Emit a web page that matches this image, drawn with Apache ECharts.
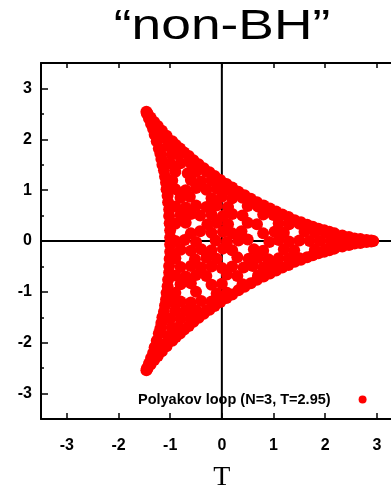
<!DOCTYPE html>
<html><head><meta charset="utf-8">
<script src="https://cdn.jsdelivr.net/npm/echarts@6/dist/echarts.min.js"></script>
<style>html,body{margin:0;padding:0;background:#fff}#c{width:391px;height:491px}</style>
</head><body><div id="c"></div>
<script>
const titleText = '\u201cnon-BH\u201d';
const seriesName = 'Polyakov loop (N=3, T=2.95)';
const xAxisName = 'T';
const xTickValues = [-3, -2, -1, 0, 1, 2, 3];
const yTickValues = [-3, -2, -1, 0, 1, 2, 3];
const yMinorTickValues = [-2.5, -1.5, -0.5, 0.5, 1.5, 2.5];
const zeroLineV = [[0, -3.5], [0, 3.5]];
const zeroLineH = [[-3.5, 0], [3.5, 0]];

// points along the upper-right rim (right tip -> top tip)
const rimUpper = [[2.93,0.00],[2.89,0.01],[2.80,0.02],[2.68,0.04],[2.57,0.05],[2.46,0.08],[2.33,0.11],[2.18,0.15],[2.08,0.18],[1.98,0.21],[1.87,0.24],[1.76,0.28],[1.65,0.32],[1.53,0.37],[1.41,0.41],[1.29,0.47],[1.17,0.52],[1.05,0.58],[0.93,0.64],[0.81,0.70],[0.68,0.76],[0.56,0.83],[0.44,0.90],[0.32,0.97],[0.20,1.05],[0.09,1.12],[-0.03,1.20],[-0.14,1.28],[-0.24,1.35],[-0.35,1.43],[-0.45,1.51],[-0.55,1.59],[-0.64,1.67],[-0.73,1.74],[-0.81,1.82],[-0.89,1.89],[-0.96,1.96],[-1.07,2.07],[-1.16,2.17],[-1.24,2.26],[-1.31,2.34],[-1.38,2.43],[-1.44,2.51],[-1.46,2.54]];
// points along the lower-right rim
const rimLower = [[2.89,-0.01],[2.80,-0.02],[2.68,-0.04],[2.57,-0.05],[2.46,-0.08],[2.33,-0.11],[2.18,-0.15],[2.08,-0.18],[1.98,-0.21],[1.87,-0.24],[1.76,-0.28],[1.65,-0.32],[1.53,-0.37],[1.41,-0.41],[1.29,-0.47],[1.17,-0.52],[1.05,-0.58],[0.93,-0.64],[0.81,-0.70],[0.68,-0.76],[0.56,-0.83],[0.44,-0.90],[0.32,-0.97],[0.20,-1.05],[0.09,-1.12],[-0.03,-1.20],[-0.14,-1.28],[-0.24,-1.35],[-0.35,-1.43],[-0.45,-1.51],[-0.55,-1.59],[-0.64,-1.67],[-0.73,-1.74],[-0.81,-1.82],[-0.89,-1.89],[-0.96,-1.96],[-1.07,-2.07],[-1.16,-2.17],[-1.24,-2.26],[-1.31,-2.34],[-1.38,-2.43],[-1.44,-2.51],[-1.46,-2.54]];
// points along the left rim
const rimLeft = [[-1.45,2.50],[-1.41,2.41],[-1.37,2.30],[-1.33,2.20],[-1.30,2.09],[-1.26,1.96],[-1.22,1.82],[-1.19,1.72],[-1.17,1.61],[-1.15,1.50],[-1.12,1.39],[-1.10,1.27],[-1.08,1.15],[-1.07,1.02],[-1.05,0.89],[-1.04,0.76],[-1.02,0.62],[-1.02,0.49],[-1.01,0.35],[-1.00,0.21],[-1.00,0.07],[-1.00,-0.07],[-1.00,-0.21],[-1.01,-0.35],[-1.02,-0.49],[-1.02,-0.62],[-1.04,-0.76],[-1.05,-0.89],[-1.07,-1.02],[-1.08,-1.15],[-1.10,-1.27],[-1.12,-1.39],[-1.15,-1.50],[-1.17,-1.61],[-1.19,-1.72],[-1.22,-1.82],[-1.26,-1.96],[-1.30,-2.09],[-1.33,-2.20],[-1.37,-2.30],[-1.41,-2.41],[-1.45,-2.50]];
// inner points, upper half (incl. the axis row)
const coreUpper = [
[-0.9,0],[-0.72,0.02],[-0.5,-0.02],[-0.12,0.01],[0.1,-0.02],[0.32,0.01],[0.5,0.03],[0.92,-0.02],[1.1,0.02],[1.3,-0.01],[1.5,0.01],[1.7,0],[1.9,0],[2.1,0],[2.3,0],[2.5,0],[2.7,0],
[-0.6,0.15],[-0.42,0.19],[-0.2,0.16],[0.02,0.18],[0.2,0.15],[0.38,0.19],[0.8,0.15],[1.02,0.18],[1.2,0.16],[1.6,0.18],[1.8,0.17],[2.0,0.17],
[-0.9,0.34],[-0.7,0.36],[-0.28,0.33],[-0.1,0.36],[0.12,0.33],[0.5,0.36],[0.68,0.33],[1.1,0.35],[1.3,0.33],[1.5,0.34],
[-0.8,0.51],[-0.6,0.53],[-0.42,0.50],[-0.2,0.52],[0.02,0.49],[0.2,0.53],[0.4,0.50],[0.8,0.52],[1.0,0.51],
[-0.9,0.68],[-0.7,0.66],[-0.5,0.70],[-0.3,0.67],[-0.1,0.70],[0.12,0.67],[0.5,0.69],[0.7,0.68],
[-0.8,0.85],[-0.62,0.87],[-0.2,0.84],[0.0,0.87],[0.2,0.84],[0.4,0.85],
[-0.9,1.02],[-0.7,1.00],[-0.5,1.04],[-0.3,1.01],[-0.1,1.03],[0.1,1.02],
[-0.96,1.19],[-0.6,1.20],[-0.4,1.17],[-0.2,1.19],
[-0.9,1.36],[-0.66,1.33],[-0.5,1.36],[-0.3,1.36],
[-1.0,1.53],[-0.8,1.53],[-0.6,1.53],
[-0.97,1.70],[-0.85,1.70],
[-1.05,1.87],[-1.16,2.04],[-1.26,2.21],[-1.38,2.38]];
// inner points, lower half
const coreLower = [
[-0.8,-0.17],[-0.6,-0.19],[-0.4,-0.16],[-0.2,-0.18],[0.02,-0.15],[0.2,-0.18],[0.62,-0.16],[0.8,-0.19],[1.2,-0.16],[1.4,-0.18],[1.8,-0.17],[2.0,-0.17],
[-0.9,-0.34],[-0.52,-0.36],[-0.3,-0.33],[-0.1,-0.35],[0.3,-0.32],[0.52,-0.35],[0.7,-0.33],[0.9,-0.36],[1.1,-0.34],[1.3,-0.34],[1.5,-0.34],
[-0.8,-0.51],[-0.6,-0.49],[-0.4,-0.52],[-0.2,-0.50],[0.0,-0.53],[0.2,-0.50],[0.42,-0.52],[0.6,-0.49],[0.8,-0.52],[1.0,-0.51],
[-0.9,-0.68],[-0.7,-0.70],[-0.5,-0.67],[-0.3,-0.69],[0.1,-0.66],[0.3,-0.69],[0.7,-0.68],
[-0.8,-0.85],[-0.6,-0.83],[-0.2,-0.86],[0.0,-0.84],[0.4,-0.85],
[-0.9,-1.02],[-0.5,-1.00],[-0.1,-1.03],[0.1,-1.02],
[-0.96,-1.19],[-0.8,-1.19],[-0.6,-1.21],[-0.4,-1.18],[-0.2,-1.19],
[-0.9,-1.36],[-0.7,-1.36],[-0.5,-1.36],[-0.3,-1.36],
[-1.0,-1.53],[-0.8,-1.53],[-0.6,-1.53],
[-0.97,-1.70],[-0.85,-1.70],
[-1.05,-1.87],[-1.16,-2.04],[-1.26,-2.21],[-1.38,-2.38]];

const points = rimUpper.concat(rimLower, rimLeft, coreUpper, coreLower);

const sans = "'Liberation Sans',Arial,sans-serif";
const axisBlack = {color: '#000', width: 2};
const tickStyle = {color: '#000', width: 1.5};

const chart = echarts.init(document.getElementById('c'), null, {renderer: 'canvas'});
chart.setOption({
  animation: false,
  backgroundColor: '#fff',
  graphic: [{
    type: 'text', x: 222, y: 27, scaleX: 1.27, silent: true,
    style: {text: titleText, fontFamily: sans, fontSize: 42, fontWeight: 'normal', fill: '#000', textAlign: 'center', textVerticalAlign: 'middle'}
  }],
  legend: {
    data: [seriesName], left: 133, top: 387, align: 'right', icon: 'circle',
    itemWidth: 8, itemHeight: 8, selectedMode: false,
    textStyle: {fontFamily: sans, fontWeight: 'bold', fontSize: 14.5, color: '#000', padding: [0, 23, 0, 0]}
  },
  grid: {left: 41, top: 63, width: 361.7, height: 356, containLabel: false, outerBoundsMode: 'none'},
  xAxis: [{
    type: 'value', min: -3.5, max: 3.5, position: 'bottom',
    axisLine: {show: true, onZero: false, lineStyle: axisBlack},
    axisTick: {show: true, inside: true, length: 6, customValues: xTickValues, lineStyle: tickStyle},
    axisLabel: {show: true, customValues: xTickValues, margin: 19, fontFamily: sans, fontWeight: 'bold', fontSize: 16, color: '#000'},
    splitLine: {show: false},
    name: xAxisName, nameLocation: 'middle', nameGap: 45,
    nameTextStyle: {fontFamily: "'Liberation Serif','Times New Roman',serif", fontSize: 28, color: '#000'}
  }, {
    type: 'value', min: -3.5, max: 3.5, position: 'top',
    axisLine: {show: true, onZero: false, lineStyle: axisBlack},
    axisTick: {show: true, inside: true, length: 5, customValues: xTickValues, lineStyle: tickStyle},
    axisLabel: {show: false}, splitLine: {show: false}
  }],
  yAxis: [{
    type: 'value', min: -3.5, max: 3.5, position: 'left',
    axisLine: {show: true, onZero: false, lineStyle: axisBlack},
    axisTick: {show: true, inside: true, length: 7, customValues: yTickValues, lineStyle: tickStyle},
    axisLabel: {show: true, customValues: yTickValues, margin: 9, fontFamily: sans, fontWeight: 'bold', fontSize: 16, color: '#000'},
    splitLine: {show: false}
  }, {
    type: 'value', min: -3.5, max: 3.5, position: 'left', offset: 0,
    axisLine: {show: false, onZero: false},
    axisTick: {show: true, inside: true, length: 3, customValues: yMinorTickValues, lineStyle: tickStyle},
    axisLabel: {show: false}, splitLine: {show: false}
  }],
  series: [{
    type: 'line', data: zeroLineV, showSymbol: false, symbol: 'none', silent: true, z: 1,
    lineStyle: {color: '#000', width: 2}, xAxisIndex: 0, yAxisIndex: 0
  }, {
    type: 'line', data: zeroLineH, showSymbol: false, symbol: 'none', silent: true, z: 1,
    lineStyle: {color: '#000', width: 2}, xAxisIndex: 0, yAxisIndex: 0
  }, {
    name: seriesName, type: 'scatter', data: points, symbol: 'circle', symbolSize: 12, z: 3,
    itemStyle: {color: '#ff0000', opacity: 1}, xAxisIndex: 0, yAxisIndex: 0
  }]
});
</script>
</body></html>
